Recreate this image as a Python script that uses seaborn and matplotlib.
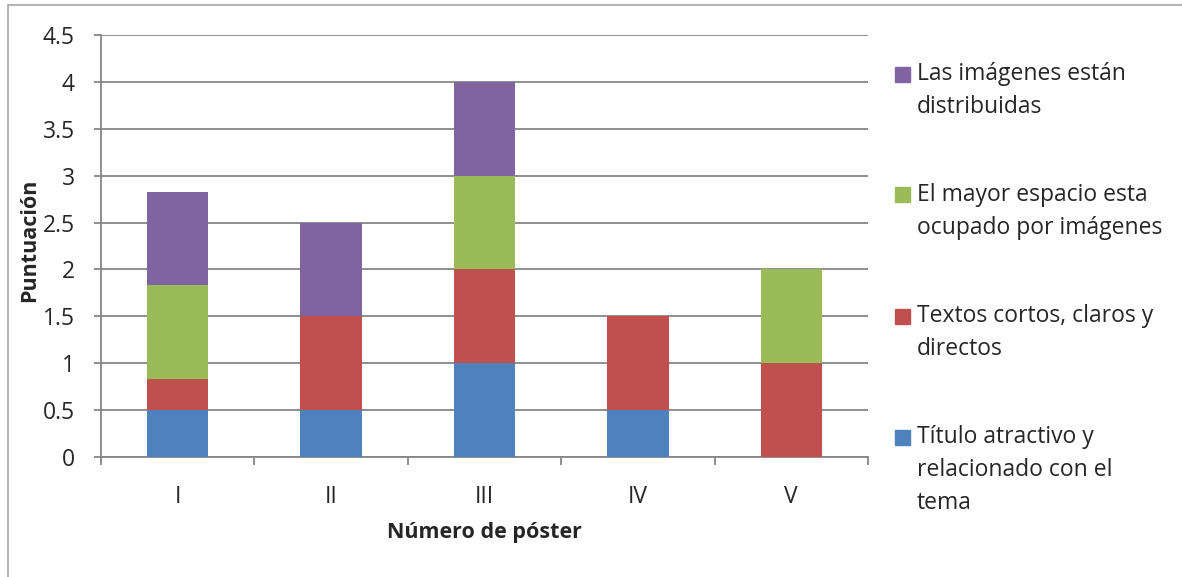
import matplotlib
matplotlib.use("Agg")
import matplotlib.pyplot as plt
from matplotlib.patches import Rectangle
import pandas as pd
import seaborn as sns

posters = ["I", "II", "III", "IV", "V"]
titulo = [0.5, 0.5, 1.0, 0.5, 0.0]
textos = [0.33, 1.0, 1.0, 1.0, 1.0]
espacio = [1.0, 0.0, 1.0, 0.0, 1.0]
imagenes = [1.0, 1.0, 1.0, 0.0, 0.0]

series_names = [
    "Título atractivo y\nrelacionado con el\ntema",
    "Textos cortos, claros y\ndirectos",
    "El mayor espacio esta\nocupado por imágenes",
    "Las imágenes están\ndistribuidas",
]
series_values = [titulo, textos, espacio, imagenes]
colors = ["#4F81BD", "#C0504D", "#9BBB59", "#8064A2"]

sns.set_style("white")
plt.rcParams["font.family"] = ["Open Sans", "DejaVu Sans"]

W, H = 1182, 577
fig = plt.figure(figsize=(W / 100, H / 100), dpi=100)
ax = fig.add_axes([101 / W, 1 - 457 / H, (868 - 101) / W, (457 - 35) / H])

grid_c = "#868686"
bottom = [0.0] * len(posters)
for name, vals, col in zip(series_names, series_values, colors):
    df = pd.DataFrame({"poster": posters, "valor": vals})
    sns.barplot(data=df, x="poster", y="valor", order=posters, color=col,
                width=0.4, bottom=bottom, saturation=1, ax=ax, zorder=3,
                linewidth=0)
    bottom = [b + v for b, v in zip(bottom, vals)]

ax.set_xlim(-0.5, 4.5)
ax.set_ylim(0, 4.5)
ax.set_yticks([i * 0.5 for i in range(10)])
ax.set_yticklabels(["0", "0.5", "1", "1.5", "2", "2.5", "3", "3.5", "4", "4.5"])
ax.yaxis.grid(True, color=grid_c, linewidth=1.3, zorder=0)
ax.set_axisbelow(True)

ax.set_xticks([i - 0.5 for i in range(6)])
ax.set_xticklabels([])
ax.set_xticks(range(5), minor=True)
ax.set_xticklabels(posters, minor=True)
ax.tick_params(axis="x", which="major", length=6, width=1.3, color=grid_c,
               direction="out", bottom=True)
ax.tick_params(axis="x", which="minor", length=0, pad=20, labelsize=16.5)
ax.tick_params(axis="y", length=5, width=1.3, color=grid_c, direction="out",
               left=True, pad=14, labelsize=16.5)

for s in ["top", "right"]:
    ax.spines[s].set_visible(False)
for s in ["left", "bottom"]:
    ax.spines[s].set_color(grid_c)
    ax.spines[s].set_linewidth(1.3)

ax.set_xlabel("Número de póster", fontsize=15.5, fontweight="bold")
ax.set_ylabel("Puntuación", fontsize=15.5, fontweight="bold")
ax.xaxis.set_label_coords(0.5, (457 - 522) / 422)
ax.yaxis.set_label_coords((40 - 101) / 767, (457 - 240) / 422)

# legend (reverse order, handle aligned with first line)
first_line_y = [437, 316, 195, 74]
for name, col, py in zip(series_names, colors, first_line_y):
    fig.patches.append(Rectangle(((895) / W, 1 - (py + 7.5) / H), 15 / W, 15 / H,
                                 transform=fig.transFigure, color=col))
    for i, line in enumerate(name.split("\n")):
        fig.text(917 / W, 1 - (py + i * 33) / H, line, fontsize=16.5,
                 va="center", ha="left")

# chart border
fig.patches.append(Rectangle((8 / W, -0.05), 1.2, 1 - 5 / H + 0.05,
                             transform=fig.transFigure, fill=False,
                             edgecolor="#A6A6A6", linewidth=1.2))

fig.savefig("out.png", dpi=100)
